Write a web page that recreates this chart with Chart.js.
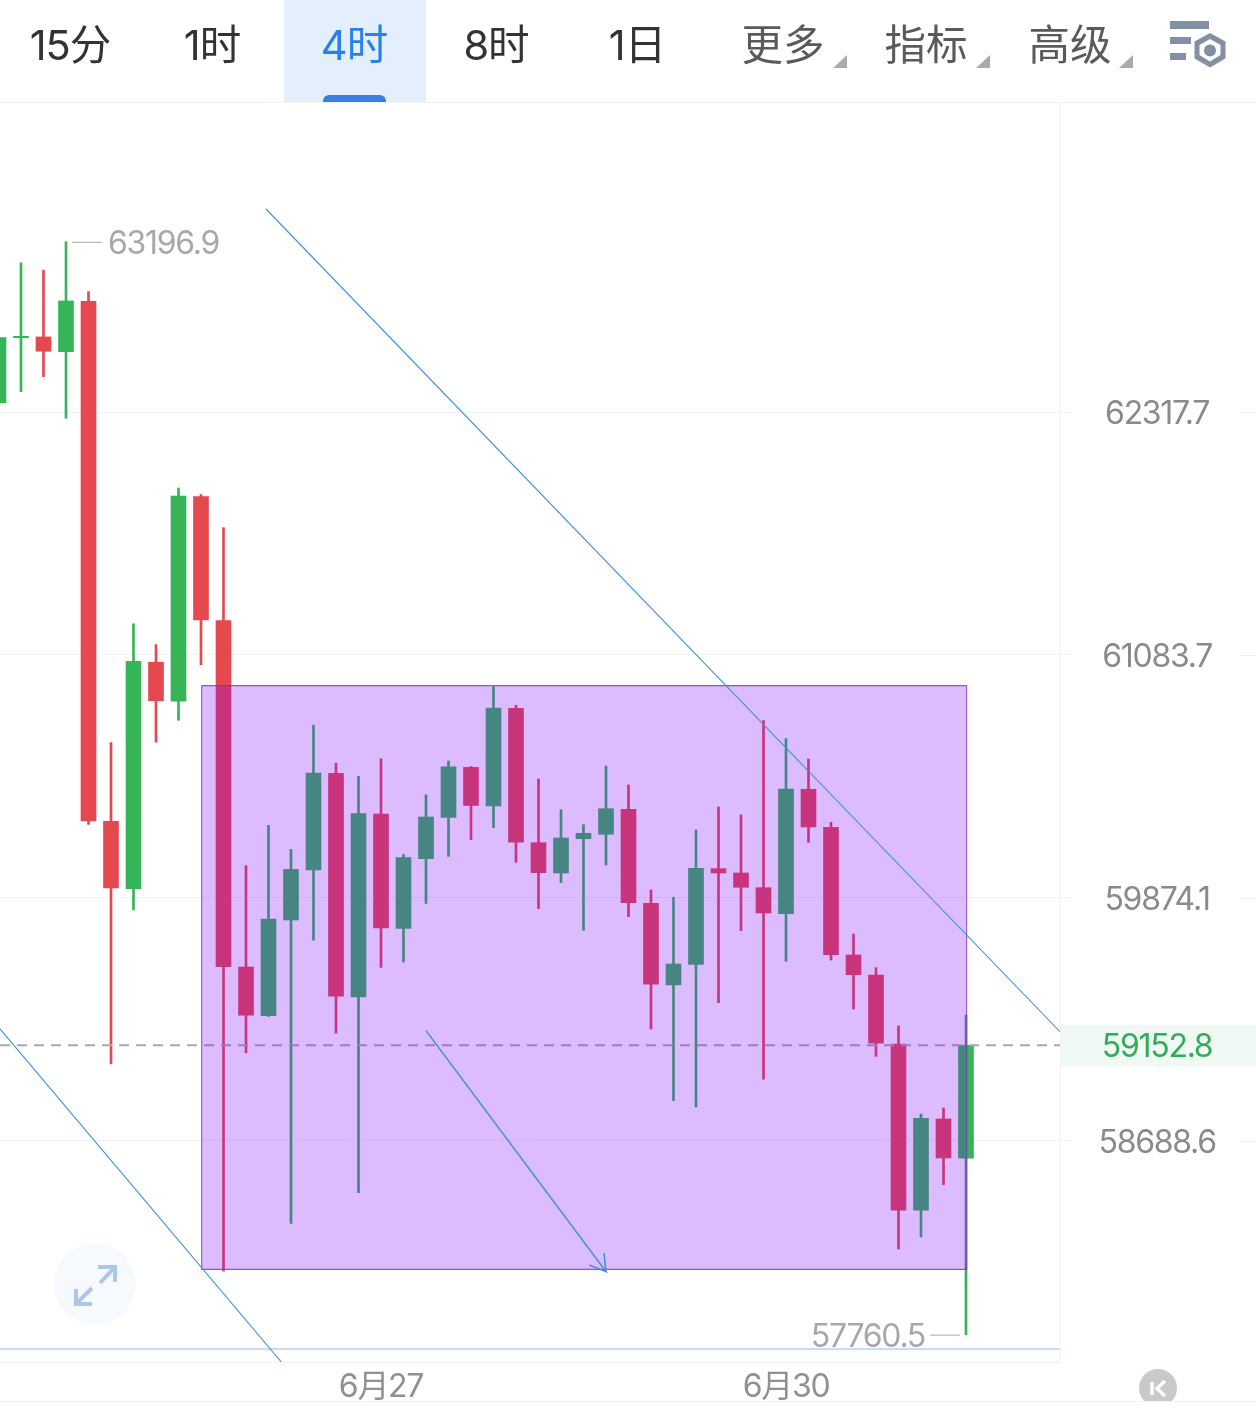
<!DOCTYPE html>
<html lang="zh">
<head>
<meta charset="utf-8">
<title>BTC 4时 K线</title>
<script src="https://cdn.jsdelivr.net/npm/chart.js@4/dist/chart.umd.min.js"></script>
<style>
  html, body { margin: 0; padding: 0; background: #fff; width: 1256px; height: 1414px; overflow: hidden; }
  #stage { position: relative; width: 1256px; height: 1414px; font-family: Inter, "Noto Sans CJK SC", sans-serif; }
  #chart { position: absolute; left: 0; top: 0; }
  #toolbar { position: absolute; left: 0; top: 0; width: 1256px; height: 102px; border-bottom: 1px solid #f2f2f2; }
  #activeTab { position: absolute; left: 284px; top: 0; width: 142px; height: 102px; background: #e3effc; }
  #activeBar { position: absolute; left: 323px; top: 95px; width: 63px; height: 7px; background: #3a80e0; border-radius: 6px 6px 0 0; }
  .tab { position: absolute; top: 20px; height: 50px; line-height: 50px; font-size: 41.5px; width: 140px; text-align: center; color: #333; letter-spacing: -1px; white-space: nowrap; }
  .tab.on { color: #2a80e8; }
  .tab.menu { color: #5a5a5a; letter-spacing: 0; }
  svg.over { position: absolute; left: 0; top: 0; pointer-events: none; }
</style>
</head>
<body>
<div id="stage">
  <canvas id="chart" width="1256" height="1414"></canvas>
  <div id="toolbar">
    <div id="activeTab"></div>
    <div id="activeBar"></div>
  </div>
  <svg class="over" width="1256" height="1414" viewBox="0 0 1256 1414">
    <!-- menu corner marks -->
    <polygon points="847,55 847,68 833,68" fill="#ababab"/>
    <polygon points="990,55 990,68 976,68" fill="#ababab"/>
    <polygon points="1133,55 1133,68 1119,68" fill="#ababab"/>
    <!-- settings glyph -->
    <rect x="1170" y="21" width="39" height="8" fill="#8390a3"/>
    <rect x="1170" y="37" width="21" height="7" fill="#8390a3"/>
    <rect x="1170" y="53" width="16" height="7" fill="#8390a3"/>
    <polygon points="1210,33 1225.5,41.5 1225.5,58.5 1210,67.5 1194.5,58.5 1194.5,41.5" fill="#8390a3"/>
    <polygon points="1210,39 1220.5,45 1220.5,55 1210,61.5 1199.5,55 1199.5,45" fill="#fff"/>
    <circle cx="1210" cy="50.5" r="6" fill="#8390a3"/>
    <!-- expand button -->
    <circle cx="95" cy="1284" r="41" fill="#f6f9fd"/>
    <g fill="none" stroke="#adc7e8" stroke-width="4">
      <path d="M98 1267 H115 V1282 M115 1267 L100 1283"/>
      <path d="M76 1289 V1304 H92 M76 1304 L92 1288"/>
    </g>
    <!-- return-to-latest button and footer rule -->
    <clipPath id="footClip"><rect x="1100" y="1364" width="120" height="37"/></clipPath>
    <circle cx="1158" cy="1388" r="19" fill="#c9c9c9" clip-path="url(#footClip)"/>
    <path d="M1152 1382 V1395" stroke="#fff" stroke-width="3.5" fill="none"/>
    <path d="M1165 1381 L1157 1388.5 L1165 1396" stroke="#fff" stroke-width="3.5" fill="none"/>
    <rect x="0" y="1401" width="1256" height="1" fill="#f2f2f2"/>
  </svg>
</div>
<script>
// Interval tabs across the top bar
const tabLabels  = ['15分', '1时', '4时', '8时', '1日', '更多', '指标', '高级'];
const tabCentres = [70, 212, 354, 496, 637, 783, 926, 1070];

// 4-hour candles, oldest first
const opens  = [62364, 62700, 62704, 62628, 62888, 60253, 59920, 61047.5, 60852, 61886, 61257.5, 59535, 59297.4, 59765.8, 60013, 60491.4, 59388.8, 60289.5, 59724.5, 60068, 60272.6, 60521.7, 60329.2, 60816.4, 60147.3, 59997.4, 60167, 60189, 60312.8, 59848, 59447.4, 59548.2, 60018.7, 59997.4, 59925, 59796.8, 60412.3, 60223.6, 59594, 59495.9, 59159, 58354.7, 58794.9, 58605];
const highs  = [62740, 63088, 63049, 63196.9, 62938, 60645.5, 61240.4, 61136, 61929, 61896, 61728, 60034, 60233, 60115, 60731.9, 60541, 60476.5, 60564, 60088.8, 60385, 60553, 60525.7, 60924.7, 60831.4, 60463.5, 60310.8, 60236.5, 60528.2, 60433.7, 59913.6, 59877.6, 60210.2, 60324.3, 60284.5, 60754.4, 60664.5, 60563, 60248.4, 59697, 59531.6, 59246.7, 58819, 58848, 59300.3];
const lows   = [62328, 62422, 62499, 62285.5, 60238, 59061.6, 59815, 60647, 60756, 61034.5, 58062.5, 59116, 59293, 58292, 59666.6, 59211.6, 58438.9, 59533, 59559.5, 59847, 60079.4, 60162.7, 60221.6, 60050.2, 59821.4, 59949.6, 59715.2, 60036.9, 59782, 59232, 58883.5, 58852.9, 59360.4, 59713.2, 58987.4, 59562.9, 60149.3, 59569.3, 59329.6, 59099, 58169.2, 58226.7, 58477.9, 57760.5];
const closes = [62700, 62707, 62630, 62890, 60254.8, 59923.5, 61051.5, 60854, 61888.5, 61260, 59536.5, 59299.3, 59769.7, 60015, 60493.4, 59392.7, 60291.5, 59726.5, 60073.5, 60274.6, 60523.7, 60331.7, 60817.9, 60149.3, 59998.9, 60170.6, 60193.9, 60315.8, 59851, 59450.4, 59549.7, 60020.6, 59997.4, 59926.9, 59800.2, 60413.8, 60225.1, 59595.4, 59497.4, 59162.4, 58354.7, 58798.3, 58606.4, 59152.8];

// Axis ticks and date labels
const priceTicks = [62317.7, 61083.7, 59874.1, 59152.8, 58688.6];
const dateTicks  = [17, 35];
const dateLabels = ['6月27', '6月30'];
const lastPrice  = 59152.8;
const windowStart = 0.0667, windowEnd = 47.178;
const priceFloor = 57630.5, priceCeil = 63923;

// Drawing tools, placed in candle-index / price coordinates
const boxLeft = 9.03, boxRight = 43.03, boxTop = 60929.7, boxBottom = 58071.6;
const channelUpper = [[11.889, 63367.7], [47.178, 59218.9]];
const channelLower = [[0.0667, 59233], [12.57, 57630.5]];
const supportLevel = 57692.3;
const arrowPath = [[19, 59223.8], [27, 58060.6], [26.26, 58092.6], [27, 58060.6], [26.91, 58150]];

const RED = '#e5484f', GREEN = '#35b558', BLUE = '#3f8ee0';
const FONT = 'Inter, "Noto Sans CJK SC", sans-serif';

const bar = document.getElementById('toolbar');
tabLabels.forEach((text, i) => {
  const el = document.createElement('div');
  el.className = 'tab' + (i === 2 ? ' on' : '') + (i > 4 ? ' menu' : '');
  el.style.left = (tabCentres[i] - 70) + 'px';
  el.textContent = text;
  bar.appendChild(el);
});

const indices = opens.map((_, i) => i);
const candleColour = ctx => closes[ctx.dataIndex] >= opens[ctx.dataIndex] ? GREEN : RED;
const pts = list => list.map(([x, y]) => ({ x, y }));
const toolLine = (points, colour, order, extra) => Object.assign({
  type: 'line', data: pts(points), borderColor: colour, borderWidth: 1.1,
  pointRadius: 0, fill: false, tension: 0, order
}, extra);

// Paints the price-tag band, the outer tick stubs and the high/low captions
const chrome = {
  id: 'chrome',
  beforeDraw(chart) {
    const { ctx } = chart, y = chart.scales.y;
    const py = y.getPixelForValue(lastPrice);
    ctx.save();
    ctx.fillStyle = '#f0f9f3';
    ctx.fillRect(chart.chartArea.right, py - 20, chart.width - chart.chartArea.right, 41);
    ctx.fillStyle = '#f2f2f2';
    priceTicks.filter(v => v !== lastPrice).forEach(v => {
      ctx.fillRect(1240, Math.round(y.getPixelForValue(v)), 16, 1);
    });
    ctx.restore();
    ctx.letterSpacing = '-1.3px';
  },
  afterDatasetsDraw(chart) {
    const { ctx } = chart, x = chart.scales.x, y = chart.scales.y;
    const topValue = Math.max(...highs), lowValue = Math.min(...lows);
    const hx = x.getPixelForValue(highs.indexOf(topValue)), hy = y.getPixelForValue(topValue);
    const lx = x.getPixelForValue(lows.indexOf(lowValue)), ly = y.getPixelForValue(lowValue);
    ctx.save();
    ctx.font = '32px ' + FONT;
    ctx.fillStyle = '#a8a8a8';
    ctx.textBaseline = 'middle';
    ctx.textAlign = 'left';
    ctx.fillText(topValue.toFixed(1), hx + 42, hy + 3);
    ctx.fillRect(hx + 6, hy, 30, 1);
    ctx.textAlign = 'right';
    ctx.fillText(lowValue.toFixed(1), lx - 41, ly + 3);
    ctx.fillRect(lx - 36, ly, 30, 1);
    ctx.restore();
  }
};

new Chart(document.getElementById('chart'), {
  type: 'bar',
  plugins: [chrome],
  data: {
    datasets: [
      // Trend lines and arrow sit on top of everything
      toolLine(channelUpper, BLUE, 1),
      toolLine(channelLower, BLUE, 1),
      toolLine(arrowPath, BLUE, 1, { borderWidth: 1.5 }),
      // Shaded box: outline, then the two edges that bound its fill
      toolLine([[boxLeft, boxTop], [boxLeft, boxBottom], [boxRight, boxBottom], [boxRight, boxTop], [boxLeft, boxTop]], 'rgba(130,40,190,0.8)', 2),
      toolLine([[boxLeft, boxTop], [boxRight, boxTop]], 'rgba(0,0,0,0)', 3, { fill: '+1', backgroundColor: 'rgba(122,0,255,0.263)', borderWidth: 0 }),
      toolLine([[boxLeft, boxBottom], [boxRight, boxBottom]], 'rgba(0,0,0,0)', 3, { borderWidth: 0 }),
      // Reference levels beneath the box
      toolLine([[windowStart, lastPrice], [windowEnd, lastPrice]], '#a9a9a9', 5, { borderWidth: 2, borderDash: [10, 7] }),
      toolLine([[windowStart, supportLevel], [windowEnd, supportLevel]], '#8fb9ec', 1, { borderWidth: 1.2 }),
      // Candle bodies and wicks
      {
        label: 'body', order: 10, barThickness: 15, grouped: false,
        backgroundColor: candleColour,
        data: indices.map(i => ({ x: i, y: [opens[i], closes[i]] }))
      },
      {
        label: 'wick', order: 11, barThickness: 2, grouped: false,
        backgroundColor: candleColour,
        data: indices.map(i => ({ x: i, y: [lows[i], highs[i]] }))
      }
    ]
  },
  options: {
    responsive: false,
    animation: false,
    events: [],
    layout: { padding: { left: 0, top: 103, right: 0, bottom: 10 } },
    plugins: { legend: { display: false }, tooltip: { enabled: false } },
    scales: {
      x: {
        type: 'linear', offset: false, bounds: 'data',
        min: windowStart, max: windowEnd,
        grid: { display: false, offset: false },
        border: { display: true, color: '#f2f2f2', width: 1 },
        afterBuildTicks: s => { s.ticks = dateTicks.map(value => ({ value })); },
        afterFit: s => { s.height = 42; },
        ticks: {
          autoSkip: false, maxRotation: 0, padding: -2,
          color: '#909090', font: { family: FONT, size: 32 },
          callback: v => dateLabels[dateTicks.indexOf(v)]
        }
      },
      y: {
        type: 'logarithmic', position: 'right', bounds: 'data',
        min: priceFloor, max: priceCeil,
        grid: {
          color: c => c.tick && c.tick.value === lastPrice ? 'rgba(0,0,0,0)' : '#f3f3f3',
          tickColor: c => c.tick && c.tick.value === lastPrice ? 'rgba(0,0,0,0)' : '#f3f3f3',
          tickLength: 12
        },
        border: { display: true, color: '#f2f2f2', width: 1 },
        afterBuildTicks: s => { s.ticks = priceTicks.map(value => ({ value })); },
        afterFit: s => { s.width = 196; },
        ticks: {
          autoSkip: false, crossAlign: 'center', padding: 22, labelOffset: 2,
          font: { family: FONT, size: 32 },
          color: c => c.tick.value === lastPrice ? '#2fae57' : '#8a8a8a',
          callback: v => v.toFixed(1)
        }
      }
    }
  }
});
</script>
</body>
</html>
